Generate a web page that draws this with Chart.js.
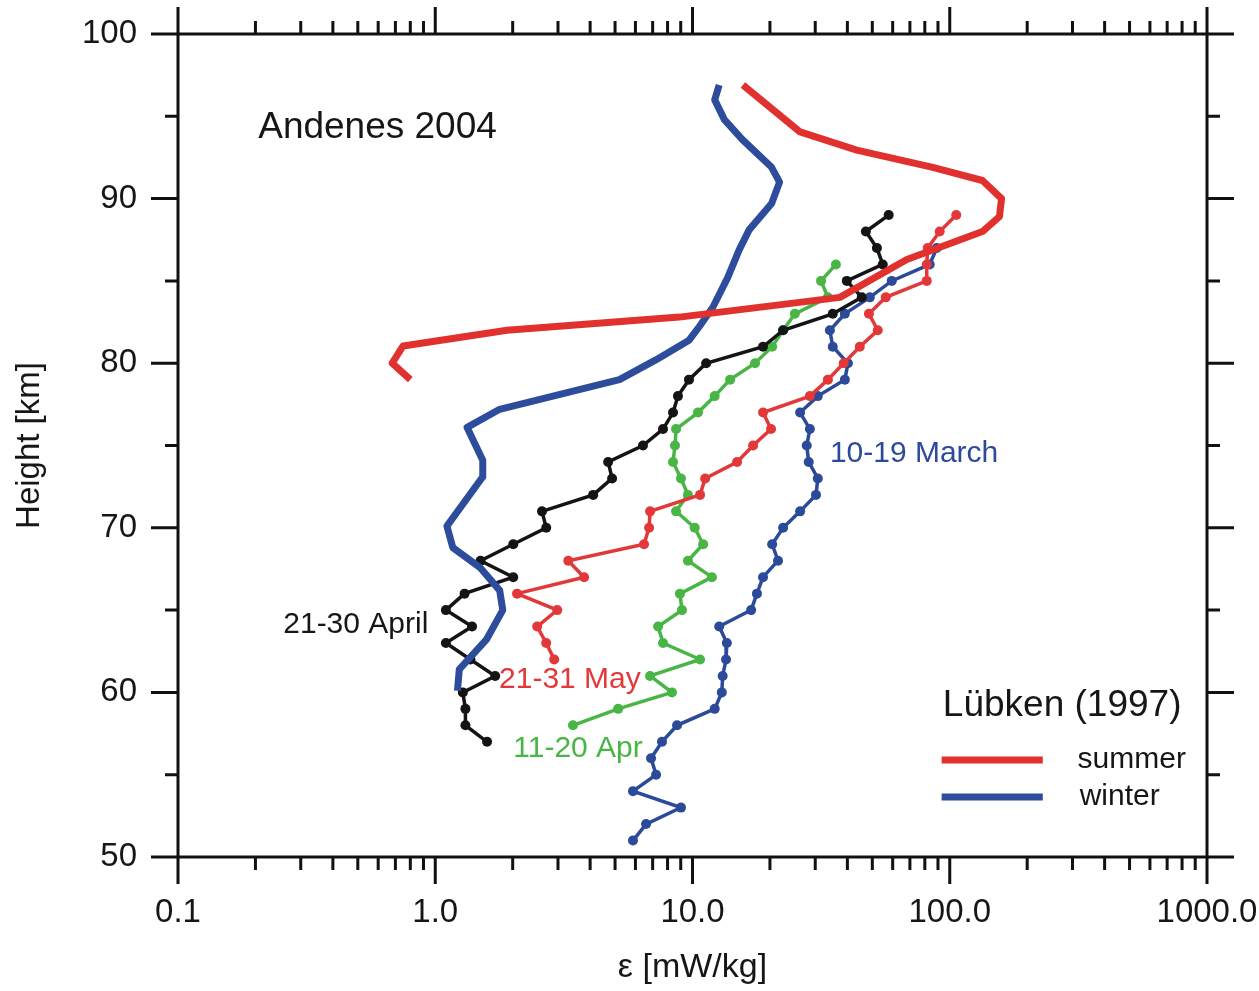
<!DOCTYPE html>
<html>
<head>
<meta charset="utf-8">
<title>Andenes 2004 - energy dissipation rates</title>
<script src="https://cdn.jsdelivr.net/npm/chart.js@4.4.1/dist/chart.umd.min.js"></script>
<style>
  html, body { margin: 0; padding: 0; background: #ffffff; }
  #wrap { width: 1259px; height: 991px; position: relative; }
</style>
</head>
<body>
<div id="wrap"><canvas id="chart"></canvas></div>
<script>
// --- Lübken (1997) climatologies (thick lines) ---
const summerHeights = [96.9, 95.2, 94.05, 92.95, 91.9, 91.1, 90.0, 88.9, 88.0, 86.3, 84.0, 82.8, 82.0, 81.05, 80.0, 79.0];
const summerEps     = [15.7, 21.3, 26.2, 43.5, 85.9, 134, 159, 156, 134, 68.1, 37.4, 8.9, 1.9, 0.75, 0.68, 0.8];

const winterHeights = [96.9, 96.0, 94.8, 93.6, 91.9, 91.0, 89.7, 88.1, 86.9, 85.2, 83.4, 82.2, 81.4, 80.2, 79.0, 77.2, 76.1, 74.1, 73.1, 70.1, 68.8, 67.6, 66.2, 65.0, 63.2, 61.4, 60.1];
const winterEps     = [12.7, 12.2, 13.3, 15.6, 20.3, 21.8, 20.3, 16.6, 15.2, 13.7, 12.0, 10.6, 9.7, 7.2, 5.2, 1.78, 1.33, 1.53, 1.53, 1.11, 1.17, 1.49, 1.78, 1.83, 1.58, 1.24, 1.22];

// --- Andenes 2004 campaign profiles (1 km steps) ---
const aprilLateHeights = [89, 88, 87, 86, 85, 84, 83, 82, 81, 80, 79, 78, 77, 76, 75, 74, 73, 72, 71, 70, 69, 68, 67, 66, 65, 64, 63, 62, 61, 60, 59, 58, 57];
const aprilLateEps     = [57.9, 47.2, 52.1, 54.9, 39.8, 45.5, 35.1, 22.5, 18.8, 11.3, 9.69, 8.78, 8.40, 7.68, 6.42, 4.70, 4.87, 4.11, 2.60, 2.70, 2.01, 1.50, 2.01, 1.30, 1.10, 1.39, 1.10, 1.37, 1.71, 1.28, 1.31, 1.31, 1.59];

const mayHeights = [89, 88, 87, 86, 85, 84, 83, 82, 81, 80, 79, 78, 77, 76, 75, 74, 73, 72, 71, 70, 69, 68, 67, 66, 65, 64, 63, 62];
const mayEps     = [106, 91.4, 82.1, 81.4, 81.4, 56.4, 48.5, 52.5, 44.7, 38.7, 33.6, 28.6, 18.8, 20.2, 17.2, 14.9, 11.2, 10.7, 6.84, 6.78, 6.48, 3.29, 3.79, 2.08, 2.98, 2.49, 2.70, 2.90];

const aprilMidHeights = [86, 85, 84, 83, 82, 81, 80, 79, 78, 77, 76, 75, 74, 73, 72, 71, 70, 69, 68, 67, 66, 65, 64, 63, 62, 61, 60, 59, 58];
const aprilMidEps     = [36.1, 31.6, 33.6, 25.0, 22.5, 20.4, 17.5, 14.0, 12.2, 10.5, 8.63, 8.55, 8.40, 9.02, 9.60, 8.63, 10.2, 11.0, 9.60, 11.9, 8.94, 9.10, 7.35, 7.68, 10.7, 6.84, 8.32, 5.14, 3.43];

const marchHeights = [87, 86, 85, 84, 83, 82, 81, 80, 79, 78, 77, 76, 75, 74, 73, 72, 71, 70, 69, 68, 67, 66, 65, 64, 63, 62, 61, 60, 59, 58, 57, 56, 55, 54, 53, 52, 51];
const marchEps     = [89.0, 83.6, 59.5, 48.9, 39.1, 34.2, 35.1, 40.2, 39.1, 30.7, 26.2, 28.6, 27.8, 28.3, 30.7, 30.2, 26.2, 22.5, 20.4, 21.5, 18.8, 17.8, 16.9, 12.7, 13.6, 13.5, 13.1, 13.0, 12.2, 8.71, 7.61, 6.90, 7.22, 5.87, 9.02, 6.60, 5.87];

// --- axes ---
const xTickValues = [0.1, 1, 10, 100, 1000];
const xTickLabels = ['0.1', '1.0', '10.0', '100.0', '1000.0'];
const yTickValues = [50, 60, 70, 80, 90, 100];
const yTickLabels = ['50', '60', '70', '80', '90', '100'];

const COL = {
    summer: '#e1312f',
    winter: '#2e4c9c',
    black: '#141414',
    may: '#e3383a',
    green: '#48b545',
    march: '#2c4a9a',
    text: '#161616'
};
const FONT = '"Liberation Sans", Arial, Helvetica, sans-serif';

const toPoints = (hs, es) => hs.map((h, i) => ({ x: es[i], y: h }));

// text labels placed in data coordinates
const annotations = [
    { text: 'Andenes 2004', x: 0.205, y: 94.3, align: 'left', size: 37, color: COL.text },
    { text: '21-30 April', x: 0.94, y: 64.1, align: 'right', size: 30, color: COL.text },
    { text: '21-31 May', x: 1.77, y: 60.75, align: 'left', size: 30, color: COL.may },
    { text: '11-20 Apr', x: 2.01, y: 56.6, align: 'left', size: 30, color: COL.green },
    { text: '10-19 March', x: 34.2, y: 74.5, align: 'left', size: 30, color: COL.march },
    { text: 'Lübken (1997)', x: 94, y: 59.2, align: 'left', size: 37, color: COL.text },
    { text: 'summer', x: 314, y: 55.9, align: 'left', size: 30, color: COL.text },
    { text: 'winter', x: 320, y: 53.65, align: 'left', size: 30, color: COL.text }
];
const legendLines = [
    { color: COL.summer, x0: 93, x1: 230, y: 55.9 },
    { color: COL.winter, x0: 93, x1: 230, y: 53.65 }
];

const framePlugin = {
    id: 'framePlugin',
    afterDatasetsDraw(chart) {
        const { ctx, chartArea: a, scales: { x, y } } = chart;
        ctx.save();
        ctx.strokeStyle = '#111';
        ctx.lineWidth = 3;
        ctx.lineCap = 'butt';
        ctx.strokeRect(a.left, a.top, a.right - a.left, a.bottom - a.top);

        const major = 27, minor = 13;
        ctx.beginPath();
        // x ticks, top and bottom, pointing out
        xTickValues.forEach(v => {
            const px = x.getPixelForValue(v);
            ctx.moveTo(px, a.bottom); ctx.lineTo(px, a.bottom + major);
            ctx.moveTo(px, a.top); ctx.lineTo(px, a.top - major);
        });
        xTickValues.slice(0, -1).forEach(d => {
            for (let k = 2; k <= 9; k++) {
                const px = x.getPixelForValue(d * k);
                ctx.moveTo(px, a.bottom); ctx.lineTo(px, a.bottom + minor);
                ctx.moveTo(px, a.top); ctx.lineTo(px, a.top - minor);
            }
        });
        // y ticks, left and right, pointing out
        yTickValues.forEach((v, i) => {
            const py = y.getPixelForValue(v);
            ctx.moveTo(a.left, py); ctx.lineTo(a.left - major, py);
            ctx.moveTo(a.right, py); ctx.lineTo(a.right + major, py);
            if (i < yTickValues.length - 1) {
                const pm = y.getPixelForValue(v + 5);
                ctx.moveTo(a.left, pm); ctx.lineTo(a.left - minor, pm);
                ctx.moveTo(a.right, pm); ctx.lineTo(a.right + minor, pm);
            }
        });
        ctx.stroke();

        // legend lines for the Lübken curves
        ctx.lineWidth = 7;
        legendLines.forEach(l => {
            ctx.strokeStyle = l.color;
            ctx.beginPath();
            ctx.moveTo(x.getPixelForValue(l.x0), y.getPixelForValue(l.y));
            ctx.lineTo(x.getPixelForValue(l.x1), y.getPixelForValue(l.y));
            ctx.stroke();
        });

        // text labels
        ctx.textBaseline = 'middle';
        annotations.forEach(t => {
            ctx.font = `${t.size}px ${FONT}`;
            ctx.fillStyle = t.color;
            ctx.textAlign = t.align;
            ctx.fillText(t.text, x.getPixelForValue(t.x), y.getPixelForValue(t.y));
        });
        ctx.restore();
    }
};

const thick = (label, hs, es, color) => ({
    label, data: toPoints(hs, es), borderColor: color, backgroundColor: color,
    borderWidth: 7, pointRadius: 0, showLine: true, borderJoinStyle: 'round', tension: 0
});
const thin = (label, hs, es, color) => ({
    label, data: toPoints(hs, es), borderColor: color, backgroundColor: color,
    borderWidth: 3.5, pointRadius: 5, pointBorderWidth: 0, showLine: true, tension: 0
});

new Chart(document.getElementById('chart'), {
    type: 'scatter',
    data: {
        datasets: [
            thick('summer', summerHeights, summerEps, COL.summer),
            thick('winter', winterHeights, winterEps, COL.winter),
            thin('21-30 April', aprilLateHeights, aprilLateEps, COL.black),
            thin('21-31 May', mayHeights, mayEps, COL.may),
            thin('11-20 Apr', aprilMidHeights, aprilMidEps, COL.green),
            thin('10-19 March', marchHeights, marchEps, COL.march)
        ]
    },
    options: {
        responsive: true,
        maintainAspectRatio: false,
        animation: false,
        devicePixelRatio: 1,
        layout: { autoPadding: false, padding: { top: 34, right: 52, bottom: 0, left: 0 } },
        plugins: { legend: { display: false }, tooltip: { enabled: false } },
        scales: {
            x: {
                type: 'logarithmic', min: 0.1, max: 1000,
                afterFit: s => { s.height = 134; },
                afterBuildTicks: s => { s.ticks = xTickValues.map(v => ({ value: v })); },
                // grid hidden; tickLength only pushes the labels away from the frame
                grid: { display: false, drawTicks: true, tickLength: 36 },
                border: { display: false },
                ticks: {
                    autoSkip: false, maxRotation: 0, padding: 0, color: COL.text,
                    font: { family: FONT, size: 33 },
                    callback: v => xTickLabels[xTickValues.indexOf(v)]
                },
                title: {
                    display: true, text: 'ε [mW/kg]', color: COL.text,
                    font: { family: FONT, size: 34 }, padding: { top: 0, bottom: 3 }
                }
            },
            y: {
                type: 'linear', min: 50, max: 100,
                afterFit: s => { s.width = 178; },
                afterBuildTicks: s => { s.ticks = yTickValues.map(v => ({ value: v })); },
                grid: { display: false, drawTicks: true, tickLength: 41 },
                border: { display: false },
                ticks: {
                    padding: 0, color: COL.text,
                    font: { family: FONT, size: 33 },
                    callback: v => yTickLabels[yTickValues.indexOf(v)]
                },
                title: {
                    display: true, text: 'Height [km]', color: COL.text,
                    font: { family: FONT, size: 33 }, padding: { top: 10, bottom: 0 }
                }
            }
        }
    },
    plugins: [framePlugin]
});
</script>
</body>
</html>
